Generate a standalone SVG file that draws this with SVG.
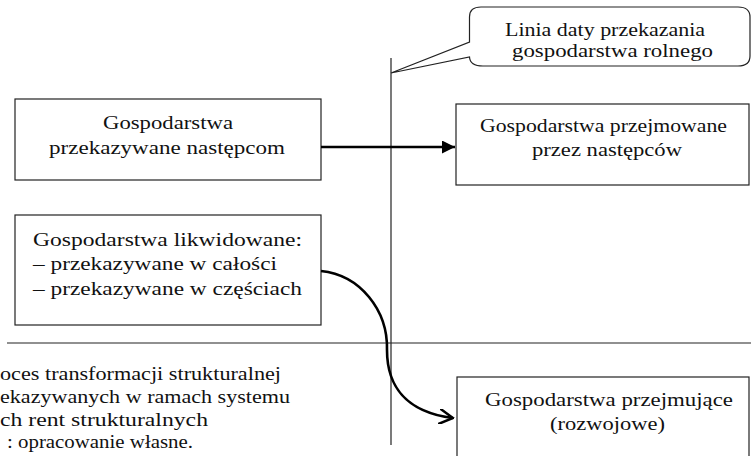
<svg xmlns="http://www.w3.org/2000/svg" width="751" height="456" viewBox="0 0 751 456">
<style>
.box{fill:#fff;stroke:#222;stroke-width:1.2}
.t{font-size:18.5px;fill:#111}
.line{stroke:#222;stroke-width:1.2;fill:none}
.conn{stroke:#000;stroke-width:2.6;fill:none}
</style>
<defs>
<marker id="tri" viewBox="0 0 10 10" refX="10" refY="5" markerWidth="5" markerHeight="5" markerUnits="strokeWidth" orient="auto">
<path d="M0,0 L10,5 L0,10 Z" fill="#000"/>
</marker>
<marker id="vee" viewBox="0 0 10 10" refX="9" refY="5" markerWidth="6" markerHeight="6" markerUnits="strokeWidth" orient="auto">
<path d="M0,0 L9,5 L0,10" fill="none" stroke="#000" stroke-width="1.6"/>
</marker>
</defs>
<rect width="751" height="456" fill="#fff"/>

<g id="guides">
<line class="line" x1="391" y1="58" x2="391" y2="445"/>
<line class="line" x1="7" y1="343" x2="751" y2="343" stroke="#333"/>
</g>

<g font-family="Liberation Serif, serif">
<g id="callout">
<path class="box" d="M481,7 H738 Q750,7 750,17 V56 Q750,66 738,66 H483 Q470,66 469.5,57 L391,73 L469.5,42 V17 Q469.5,7 481,7 Z"/>
<text class="t" x="505" y="36" textLength="200" lengthAdjust="spacingAndGlyphs">Linia daty przekazania</text>
<text class="t" x="512" y="57" textLength="201" lengthAdjust="spacingAndGlyphs">gospodarstwa rolnego</text>
</g>

<g id="n1">
<rect class="box" x="15" y="99" width="306" height="81"/>
<text class="t" x="103" y="129" textLength="130" lengthAdjust="spacingAndGlyphs">Gospodarstwa</text>
<text class="t" x="49" y="154" textLength="236" lengthAdjust="spacingAndGlyphs">przekazywane następcom</text>
</g>

<g id="n2">
<rect class="box" x="15" y="215" width="306" height="110"/>
<text class="t" x="33" y="246" textLength="269" lengthAdjust="spacingAndGlyphs">Gospodarstwa likwidowane:</text>
<text class="t" x="33" y="270" textLength="244" lengthAdjust="spacingAndGlyphs">– przekazywane w całości</text>
<text class="t" x="33" y="295" textLength="269" lengthAdjust="spacingAndGlyphs">– przekazywane w częściach</text>
</g>

<g id="n3">
<rect class="box" x="456" y="104" width="293" height="81"/>
<text class="t" x="480" y="132" textLength="247" lengthAdjust="spacingAndGlyphs">Gospodarstwa przejmowane</text>
<text class="t" x="532" y="156" textLength="150" lengthAdjust="spacingAndGlyphs">przez następców</text>
</g>

<g id="n4">
<rect class="box" x="457" y="377" width="292" height="100"/>
<text class="t" x="485" y="406" textLength="248" lengthAdjust="spacingAndGlyphs">Gospodarstwa przejmujące</text>
<text class="t" x="550" y="430" textLength="115" lengthAdjust="spacingAndGlyphs">(rozwojowe)</text>
</g>

<g id="caption">
<text class="t" x="0" y="380" textLength="281" lengthAdjust="spacingAndGlyphs">oces transformacji strukturalnej</text>
<text class="t" x="0" y="403" textLength="290" lengthAdjust="spacingAndGlyphs">ekazywanych w ramach systemu</text>
<text class="t" x="0" y="426" textLength="208" lengthAdjust="spacingAndGlyphs">ch rent strukturalnych</text>
<text class="t" x="7" y="448" textLength="186" lengthAdjust="spacingAndGlyphs">: opracowanie własne.</text>
</g>
</g>

<g id="connectors">
<line class="conn" x1="321" y1="147" x2="455" y2="147" marker-end="url(#tri)"/>
<path class="conn" d="M321,271 C360,275 388,310 387,350 C387,385 405,412 453,418" marker-end="url(#vee)"/>
</g>
</svg>
